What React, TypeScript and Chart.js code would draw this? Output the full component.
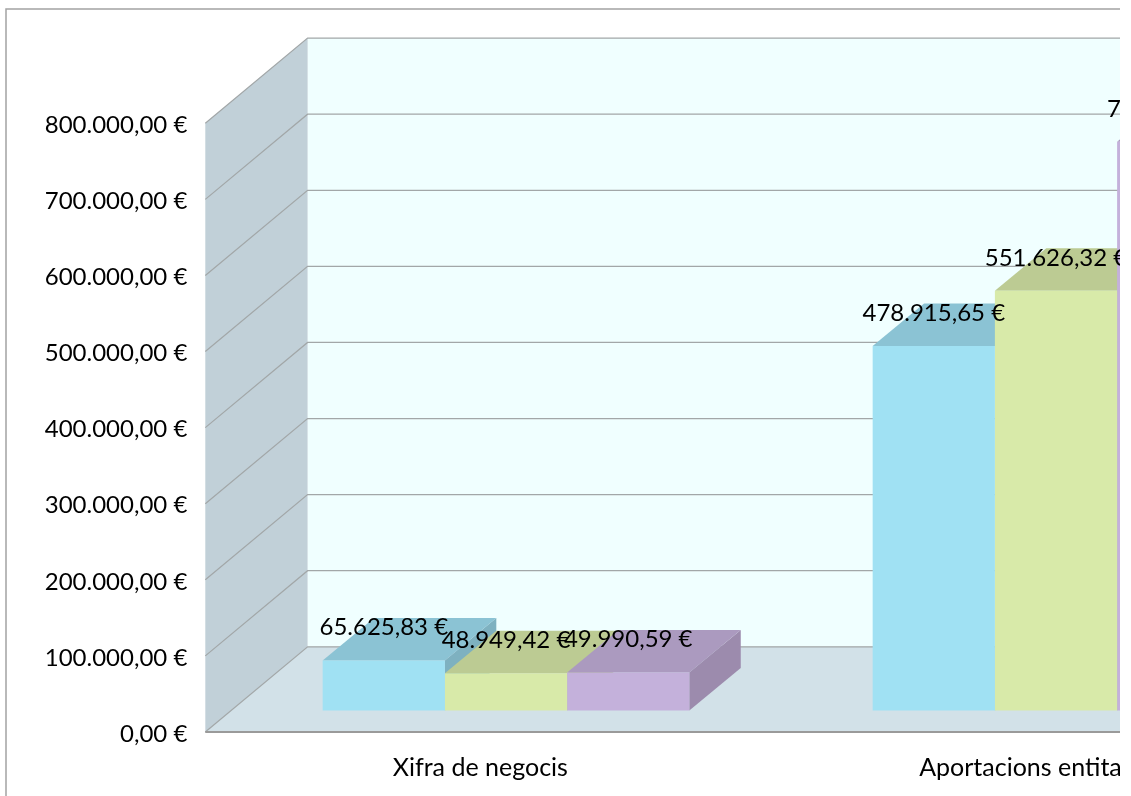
import React, { useEffect, useRef } from "react";
import { Chart, registerables } from "chart.js";

Chart.register(...registerables);

const categories = ["Xifra de negocis", "Aportacions entitats"];
const series1 = [65625.83, 478915.65];
const series2 = [48949.42, 551626.32];
const series3 = [49990.59, 747450.0];
const seriesNames = ["Sèrie 1", "Sèrie 2", "Sèrie 3"];
const frontColors = ["#a0e1f3", "#d8eaa9", "#c4b1db"];
const topColors = ["#8bc3d4", "#bccb93", "#ab9abf"];
const sideColors = ["#7eb1c0", "#aab985", "#9c8bad"];

const FONT = "Lato";
const euro = (v: number) =>
  v.toLocaleString("de-DE", { minimumFractionDigits: 2, maximumFractionDigits: 2 }) + " €";

// Projection of the 3D box
const WALL_DX = 102.3;
const WALL_DY = 85.2;
const BAR_DX = 51.4;
const BAR_DY = 42.5;
const PLANE_DX = 25.7;
const PLANE_DY = -21.5;

const threeD = {
  id: "threeD",
  beforeDraw(chart: any) {
    const { ctx, chartArea: a, scales } = chart;
    const y = scales.y;
    const bx = a.left + WALL_DX;
    ctx.save();
    // outer frame
    ctx.strokeStyle = "#a3a3a3";
    ctx.lineWidth = 1.5;
    ctx.beginPath();
    ctx.moveTo(6, chart.height);
    ctx.lineTo(6, 9);
    ctx.lineTo(chart.width, 9);
    ctx.stroke();
    // back wall
    ctx.fillStyle = "#f0ffff";
    ctx.fillRect(bx, a.top - WALL_DY, chart.width - bx, a.bottom - a.top);
    // left wall
    ctx.fillStyle = "#c1d0d8";
    ctx.beginPath();
    ctx.moveTo(a.left, a.top);
    ctx.lineTo(bx, a.top - WALL_DY);
    ctx.lineTo(bx, a.bottom - WALL_DY);
    ctx.lineTo(a.left, a.bottom);
    ctx.closePath();
    ctx.fill();
    // floor
    ctx.fillStyle = "#d2e1e8";
    ctx.beginPath();
    ctx.moveTo(a.left, a.bottom);
    ctx.lineTo(bx, a.bottom - WALL_DY);
    ctx.lineTo(chart.width, a.bottom - WALL_DY);
    ctx.lineTo(chart.width, a.bottom);
    ctx.closePath();
    ctx.fill();
    // grid from the value scale
    ctx.strokeStyle = "#a2a7a8";
    ctx.lineWidth = 1.2;
    y.ticks.forEach((t: any) => {
      const p = y.getPixelForValue(t.value);
      ctx.beginPath();
      ctx.moveTo(a.left, p);
      ctx.lineTo(bx, p - WALL_DY);
      ctx.lineTo(chart.width, p - WALL_DY);
      ctx.stroke();
    });
    // floor front edge
    ctx.strokeStyle = "#9a9a9a";
    ctx.lineWidth = 2;
    ctx.beginPath();
    ctx.moveTo(a.left, a.bottom);
    ctx.lineTo(chart.width, a.bottom);
    ctx.stroke();
    ctx.restore();
  },
  beforeDatasetsDraw(chart: any) {
    const { ctx } = chart;
    ctx.save();
    ctx.translate(PLANE_DX, PLANE_DY);
    const n = chart.data.labels.length;
    for (let i = 0; i < n; i++) {
      chart.data.datasets.forEach((_: any, d: number) => {
        const el = chart.getDatasetMeta(d).data[i];
        const l = el.x - el.width / 2;
        const r = el.x + el.width / 2;
        ctx.fillStyle = sideColors[d];
        ctx.beginPath();
        ctx.moveTo(r, el.y);
        ctx.lineTo(r + BAR_DX, el.y - BAR_DY);
        ctx.lineTo(r + BAR_DX, el.base - BAR_DY);
        ctx.lineTo(r, el.base);
        ctx.closePath();
        ctx.fill();
        ctx.fillStyle = topColors[d];
        ctx.beginPath();
        ctx.moveTo(l, el.y);
        ctx.lineTo(l + BAR_DX, el.y - BAR_DY);
        ctx.lineTo(r + BAR_DX, el.y - BAR_DY);
        ctx.lineTo(r, el.y);
        ctx.closePath();
        ctx.fill();
      });
    }
  },
  afterDatasetsDraw(chart: any) {
    const { ctx } = chart;
    ctx.fillStyle = "#000000";
    ctx.font = `24px ${FONT}`;
    ctx.textAlign = "center";
    ctx.textBaseline = "middle";
    chart.data.datasets.forEach((ds: any, d: number) => {
      chart.getDatasetMeta(d).data.forEach((el: any, i: number) => {
        ctx.fillText(euro(ds.data[i]), el.x, el.y - 33);
      });
    });
    ctx.restore();
  },
};

export default function App() {
  const ref = useRef<HTMLCanvasElement>(null);
  useEffect(() => {
    const chart = new Chart(ref.current!, {
      type: "bar",
      data: {
        labels: categories,
        datasets: [series1, series2, series3].map((data, i) => ({
          label: seriesNames[i],
          data,
          backgroundColor: frontColors[i],
          borderWidth: 0,
          categoryPercentage: 2 / 3,
          barPercentage: 1,
          clip: false as any,
        })),
      },
      options: {
        responsive: false,
        animation: false,
        layout: { padding: { top: 123.3, left: 0, right: 94.7, bottom: 0 } },
        plugins: { legend: { display: false }, tooltip: { enabled: false } },
        scales: {
          x: {
            grid: { display: false },
            border: { display: false },
            afterFit: (s: any) => {
              s.height = 64;
            },
            ticks: {
              autoSkip: false,
              maxRotation: 0,
              minRotation: 0,
              padding: 13,
              color: "#000000",
              font: { family: FONT, size: 25 },
            },
          },
          y: {
            min: 0,
            max: 800000,
            afterFit: (s: any) => {
              s.width = 205.3;
            },
            grid: { display: false },
            border: { display: false },
            ticks: {
              stepSize: 100000,
              padding: 10,
              labelOffset: 2,
              color: "#000000",
              font: { family: FONT, size: 24 },
              callback: (v: any) => euro(Number(v)),
            },
          },
        },
      },
      plugins: [threeD],
    });
    return () => chart.destroy();
  }, []);
  return (
    <div
      style={{
        position: "absolute",
        left: 0,
        top: 0,
        width: 1120,
        height: 796,
        overflow: "hidden",
        background: "#ffffff",
      }}
    >
      <canvas ref={ref} width={1400} height={796} style={{ display: "block" }} />
    </div>
  );
}
